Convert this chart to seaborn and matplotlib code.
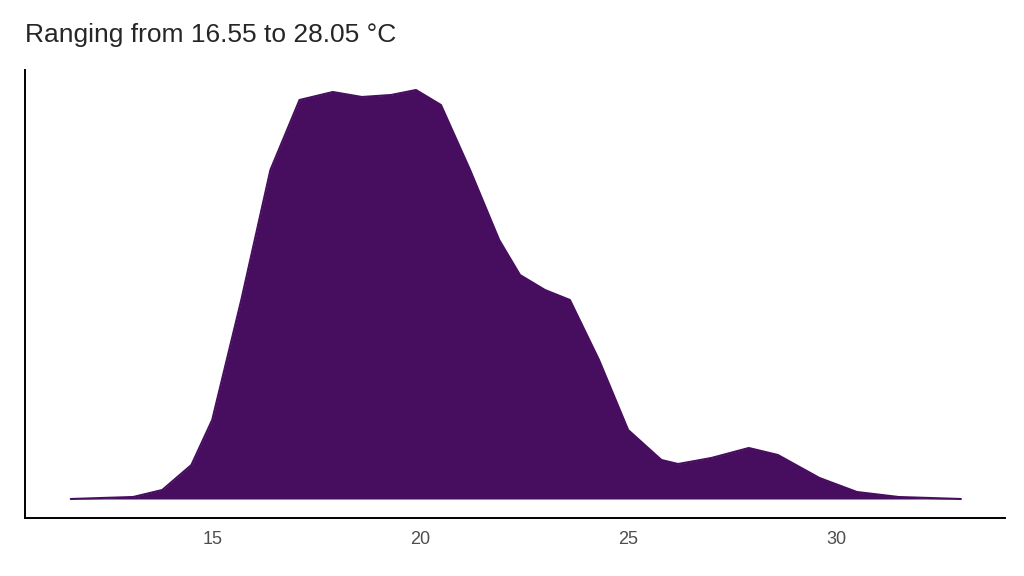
import matplotlib
matplotlib.use("Agg")
import matplotlib.pyplot as plt
import seaborn as sns
import pandas as pd

# density curve (temperature in °C, relative height)
temps = [11.6, 13.1, 13.8, 14.5, 15.0, 15.7, 16.4, 17.1, 17.9, 18.6, 19.3, 19.9,
         20.5, 21.2, 21.9, 22.4, 23.0, 23.6, 24.3, 25.0, 25.8, 26.2, 27.0, 27.9,
         28.6, 29.6, 30.5, 31.5, 33.0]
density = [0, 2, 9, 34, 79, 199, 329, 399, 407, 402, 404, 409,
           394, 329, 259, 224, 209, 199, 139, 69, 39, 35, 41, 51,
           44, 21, 7, 2, 0]
ticks = [15, 20, 25, 30]
title = "Ranging from 16.55 to 28.05 °C"

df = pd.DataFrame({"temp": temps, "density": density})
fill = "#470e5f"

sns.set_style("white")
plt.rcParams['font.family'] = ['Liberation Sans', 'DejaVu Sans']

fig = plt.figure(figsize=(10.24, 5.76), dpi=100)
ax = fig.add_axes([25 / 1024, 58 / 576, 980 / 1024, 448 / 576])
ax.fill_between(df["temp"], df["density"], color=fill, linewidth=0)
sns.lineplot(data=df, x="temp", y="density", color=fill, linewidth=1.5, ax=ax)

ax.set_xlim(10.5, 34.06)
ax.set_ylim(-19, 429)
ax.set_xticks(ticks)
ax.set_xticklabels([str(t) for t in ticks], fontsize=13, color="#4d4d4d")
ax.set_yticks([])
ax.set_xlabel("")
ax.set_ylabel("")
ax.tick_params(axis="x", length=5, width=1.2, color="#333333", direction="out", pad=4)
for side in ["top", "right"]:
    ax.spines[side].set_visible(False)
for side in ["left", "bottom"]:
    ax.spines[side].set_color("black")
    ax.spines[side].set_linewidth(1.4)

fig.text(25 / 1024, 1 - 35 / 576, title, fontsize=19, va="center", ha="left")
fig.savefig("out.png", dpi=100)
